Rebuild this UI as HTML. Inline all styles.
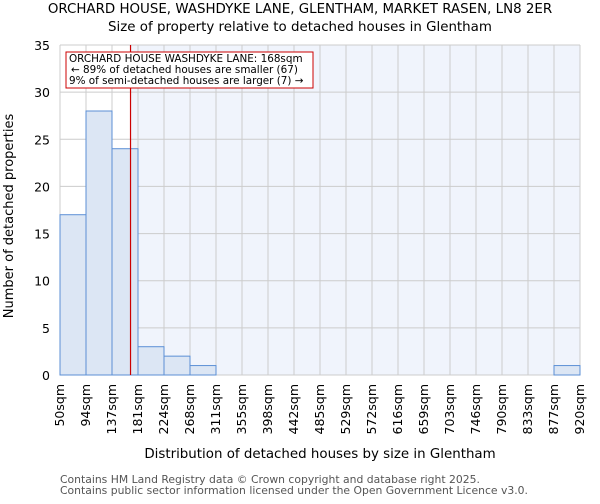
<!DOCTYPE html>
<html><head><meta charset="utf-8"><style>
body{margin:0;background:#fff;font-family:"DejaVu Sans","Liberation Sans",sans-serif;}
svg text{font-family:"DejaVu Sans","Liberation Sans",sans-serif;}
</style></head><body>
<svg id="chart" width="600" height="500" xmlns="http://www.w3.org/2000/svg">
<text x="300" y="13" text-anchor="middle" font-size="13.4">ORCHARD HOUSE, WASHDYKE LANE, GLENTHAM, MARKET RASEN, LN8 2ER</text>
<text x="300" y="31" text-anchor="middle" font-size="13.4">Size of property relative to detached houses in Glentham</text>
<rect x="60" y="45" width="520" height="330" fill="#ffffff"/>
<rect id="shade" y="45" height="330" fill="#f0f4fc"/>
<g id="grid"></g>
<g id="bars"></g>
<g id="axes"></g>
<line id="marker" y1="45" y2="375" stroke="#cc0000" stroke-width="1.2"/>
<g>
<rect x="66" y="52" width="247" height="36" fill="#fff" stroke="#cc0000" stroke-width="1"/>
<text x="69" y="62" font-size="10.4">ORCHARD HOUSE WASHDYKE LANE: 168sqm</text>
<text x="71" y="73" font-size="10.4">← 89% of detached houses are smaller (67)</text>
<text x="69" y="84" font-size="10.4">9% of semi-detached houses are larger (7) →</text>
</g>
<text x="320" y="458" text-anchor="middle" font-size="13.4">Distribution of detached houses by size in Glentham</text>
<text transform="translate(13,216) rotate(-90)" text-anchor="middle" font-size="13">Number of detached properties</text>
<text x="60" y="483" font-size="10.8" fill="#555">Contains HM Land Registry data © Crown copyright and database right 2025.</text>
<text x="60" y="494" font-size="10.8" fill="#555">Contains public sector information licensed under the Open Government Licence v3.0.</text>
</svg>
<script>
const binLabels=["50sqm","94sqm","137sqm","181sqm","224sqm","268sqm","311sqm","355sqm","398sqm","442sqm","485sqm","529sqm","572sqm","616sqm","659sqm","703sqm","746sqm","790sqm","833sqm","877sqm","920sqm"];
const counts=[17,28,24,3,2,1,0,0,0,0,0,0,0,0,0,0,0,0,0,1];
const yTicks=[0,5,10,15,20,25,30,35];
const binStart=50, binEnd=920, markerValue=168;
const NS="http://www.w3.org/2000/svg";
const X0=60,X1=580,Y0=375,Y1=45,yMax=35;
const nb=counts.length, bw=(X1-X0)/nb;
const xs=i=>X0+i*bw;
const xv=v=>X0+(v-binStart)/(binEnd-binStart)*(X1-X0);
const ys=v=>Y0-v/yMax*(Y0-Y1);
function mk(t,a,p){const e=document.createElementNS(NS,t);for(const k in a)e.setAttribute(k,a[k]);p.appendChild(e);return e;}
const grid=document.getElementById('grid'),bars=document.getElementById('bars'),axes=document.getElementById('axes');
const sh=document.getElementById('shade');sh.setAttribute('x',xv(markerValue));sh.setAttribute('width',X1-xv(markerValue));
for(let i=0;i<=nb;i++){const l=mk('line',{x1:xs(i),x2:xs(i),y1:Y1,y2:Y0,stroke:'#cccccc','stroke-width':1},grid);

}
yTicks.forEach(v=>{const l=mk('line',{x1:X0,x2:X1,y1:ys(v),y2:ys(v),stroke:'#cccccc','stroke-width':1},grid);


const t=mk('text',{x:X0-10,y:ys(v)+5,'text-anchor':'end','font-size':12.5},axes);t.textContent=v;

});
counts.forEach((c,i)=>{if(c<=0)return;const r=mk('rect',{x:xs(i),y:ys(c),width:bw,height:Y0-ys(c),fill:'#dce6f4',stroke:'#5b8fd5','stroke-width':1},bars);

});
binLabels.forEach((s,i)=>{const x=xs(i)+4;const t=mk('text',{x:0,y:0,transform:`translate(${x},384) rotate(-90)`,'text-anchor':'end','font-size':12.5},axes);t.textContent=s;

});
const m=document.getElementById('marker');m.setAttribute('x1',xv(markerValue));m.setAttribute('x2',xv(markerValue));
</script>
</body></html>
